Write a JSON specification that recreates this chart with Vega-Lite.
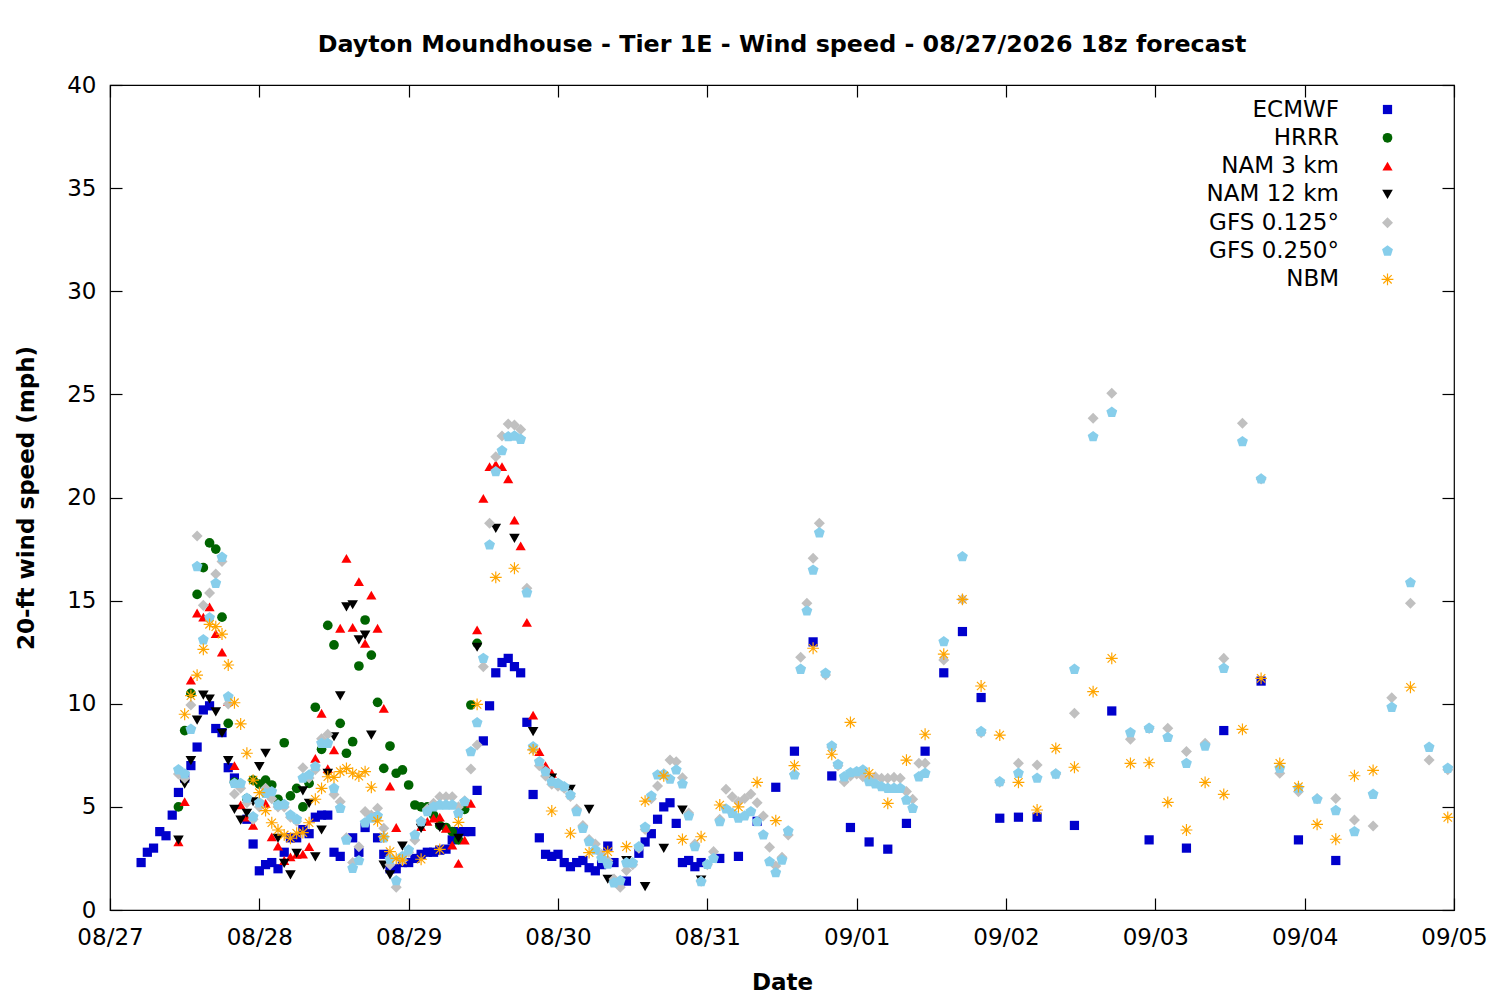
{
"$schema":"https://vega.github.io/schema/vega-lite/v6.json",
"width":1344,"height":825,"autosize":"none",
"padding":{"left":110,"top":85,"right":46,"bottom":90},
"background":"white",
"title":{"text":"Dayton Moundhouse - Tier 1E - Wind speed - 08/27/2026 18z forecast","fontSize":23.8,"fontWeight":"bold","font":"DejaVu Sans","color":"black","anchor":"middle","frame":"group","offset":17},
"config":{"font":"DejaVu Sans","view":{"stroke":"black","strokeWidth":1.2},
"axis":{"labelFontSize":23,"titleFontSize":23,"titleFontWeight":"bold","labelColor":"black","titleColor":"black","tickColor":"black","tickWidth":1.2,"domain":false,"grid":false,"tickSize":-12,"labelPadding":26,"labelFont":"DejaVu Sans","titleFont":"DejaVu Sans","labelFlush":false}},
"data":{"values":[
{"model":"ECMWF","time":"2026-08-27T05:00Z","speed":2.3},
{"model":"ECMWF","time":"2026-08-27T06:00Z","speed":2.8},
{"model":"ECMWF","time":"2026-08-27T07:00Z","speed":3.0},
{"model":"ECMWF","time":"2026-08-27T08:00Z","speed":3.8},
{"model":"ECMWF","time":"2026-08-27T09:00Z","speed":3.6},
{"model":"ECMWF","time":"2026-08-27T10:00Z","speed":4.6},
{"model":"ECMWF","time":"2026-08-27T11:00Z","speed":5.7},
{"model":"ECMWF","time":"2026-08-27T12:00Z","speed":6.4},
{"model":"ECMWF","time":"2026-08-27T13:00Z","speed":7.0},
{"model":"ECMWF","time":"2026-08-27T14:00Z","speed":7.9},
{"model":"ECMWF","time":"2026-08-27T15:00Z","speed":9.7},
{"model":"ECMWF","time":"2026-08-27T16:00Z","speed":9.9},
{"model":"ECMWF","time":"2026-08-27T17:00Z","speed":8.8},
{"model":"ECMWF","time":"2026-08-27T18:00Z","speed":8.6},
{"model":"ECMWF","time":"2026-08-27T19:00Z","speed":6.9},
{"model":"ECMWF","time":"2026-08-27T20:00Z","speed":6.4},
{"model":"ECMWF","time":"2026-08-27T22:00Z","speed":4.4},
{"model":"ECMWF","time":"2026-08-27T23:00Z","speed":3.2},
{"model":"ECMWF","time":"2026-08-28T00:00Z","speed":1.9},
{"model":"ECMWF","time":"2026-08-28T01:00Z","speed":2.2},
{"model":"ECMWF","time":"2026-08-28T02:00Z","speed":2.3},
{"model":"ECMWF","time":"2026-08-28T03:00Z","speed":2.0},
{"model":"ECMWF","time":"2026-08-28T04:00Z","speed":2.8},
{"model":"ECMWF","time":"2026-08-28T05:00Z","speed":3.5},
{"model":"ECMWF","time":"2026-08-28T06:00Z","speed":3.5},
{"model":"ECMWF","time":"2026-08-28T07:00Z","speed":3.9},
{"model":"ECMWF","time":"2026-08-28T08:00Z","speed":3.7},
{"model":"ECMWF","time":"2026-08-28T09:00Z","speed":4.5},
{"model":"ECMWF","time":"2026-08-28T10:00Z","speed":4.6},
{"model":"ECMWF","time":"2026-08-28T11:00Z","speed":4.6},
{"model":"ECMWF","time":"2026-08-28T12:00Z","speed":2.8},
{"model":"ECMWF","time":"2026-08-28T13:00Z","speed":2.6},
{"model":"ECMWF","time":"2026-08-28T15:00Z","speed":3.5},
{"model":"ECMWF","time":"2026-08-28T16:00Z","speed":2.8},
{"model":"ECMWF","time":"2026-08-28T17:00Z","speed":4.0},
{"model":"ECMWF","time":"2026-08-28T18:00Z","speed":4.5},
{"model":"ECMWF","time":"2026-08-28T19:00Z","speed":3.5},
{"model":"ECMWF","time":"2026-08-28T20:00Z","speed":2.7},
{"model":"ECMWF","time":"2026-08-28T21:00Z","speed":2.0},
{"model":"ECMWF","time":"2026-08-28T22:00Z","speed":2.0},
{"model":"ECMWF","time":"2026-08-28T23:00Z","speed":2.3},
{"model":"ECMWF","time":"2026-08-29T00:00Z","speed":2.3},
{"model":"ECMWF","time":"2026-08-29T01:00Z","speed":2.5},
{"model":"ECMWF","time":"2026-08-29T02:00Z","speed":2.7},
{"model":"ECMWF","time":"2026-08-29T03:00Z","speed":2.8},
{"model":"ECMWF","time":"2026-08-29T04:00Z","speed":2.8},
{"model":"ECMWF","time":"2026-08-29T05:00Z","speed":2.9},
{"model":"ECMWF","time":"2026-08-29T06:00Z","speed":2.95},
{"model":"ECMWF","time":"2026-08-29T07:00Z","speed":3.4},
{"model":"ECMWF","time":"2026-08-29T08:00Z","speed":3.8},
{"model":"ECMWF","time":"2026-08-29T09:00Z","speed":3.8},
{"model":"ECMWF","time":"2026-08-29T10:00Z","speed":3.8},
{"model":"ECMWF","time":"2026-08-29T11:00Z","speed":5.8},
{"model":"ECMWF","time":"2026-08-29T12:00Z","speed":8.2},
{"model":"ECMWF","time":"2026-08-29T13:00Z","speed":9.9},
{"model":"ECMWF","time":"2026-08-29T14:00Z","speed":11.5},
{"model":"ECMWF","time":"2026-08-29T15:00Z","speed":12.0},
{"model":"ECMWF","time":"2026-08-29T16:00Z","speed":12.2},
{"model":"ECMWF","time":"2026-08-29T17:00Z","speed":11.8},
{"model":"ECMWF","time":"2026-08-29T18:00Z","speed":11.5},
{"model":"ECMWF","time":"2026-08-29T19:00Z","speed":9.1},
{"model":"ECMWF","time":"2026-08-29T20:00Z","speed":5.6},
{"model":"ECMWF","time":"2026-08-29T21:00Z","speed":3.5},
{"model":"ECMWF","time":"2026-08-29T22:00Z","speed":2.7},
{"model":"ECMWF","time":"2026-08-29T23:00Z","speed":2.6},
{"model":"ECMWF","time":"2026-08-30T00:00Z","speed":2.7},
{"model":"ECMWF","time":"2026-08-30T01:00Z","speed":2.3},
{"model":"ECMWF","time":"2026-08-30T02:00Z","speed":2.1},
{"model":"ECMWF","time":"2026-08-30T03:00Z","speed":2.3},
{"model":"ECMWF","time":"2026-08-30T04:00Z","speed":2.4},
{"model":"ECMWF","time":"2026-08-30T05:00Z","speed":2.05},
{"model":"ECMWF","time":"2026-08-30T06:00Z","speed":1.9},
{"model":"ECMWF","time":"2026-08-30T07:00Z","speed":2.2},
{"model":"ECMWF","time":"2026-08-30T08:00Z","speed":3.1},
{"model":"ECMWF","time":"2026-08-30T09:00Z","speed":2.3},
{"model":"ECMWF","time":"2026-08-30T11:00Z","speed":1.4},
{"model":"ECMWF","time":"2026-08-30T13:00Z","speed":2.75},
{"model":"ECMWF","time":"2026-08-30T14:00Z","speed":3.3},
{"model":"ECMWF","time":"2026-08-30T15:00Z","speed":3.7},
{"model":"ECMWF","time":"2026-08-30T16:00Z","speed":4.4},
{"model":"ECMWF","time":"2026-08-30T17:00Z","speed":5.0},
{"model":"ECMWF","time":"2026-08-30T18:00Z","speed":5.2},
{"model":"ECMWF","time":"2026-08-30T19:00Z","speed":4.2},
{"model":"ECMWF","time":"2026-08-30T20:00Z","speed":2.3},
{"model":"ECMWF","time":"2026-08-30T21:00Z","speed":2.4},
{"model":"ECMWF","time":"2026-08-30T22:00Z","speed":2.1},
{"model":"ECMWF","time":"2026-08-30T23:00Z","speed":2.3},
{"model":"ECMWF","time":"2026-08-31T02:00Z","speed":2.5},
{"model":"ECMWF","time":"2026-08-31T05:00Z","speed":2.6},
{"model":"ECMWF","time":"2026-08-31T08:00Z","speed":4.3},
{"model":"ECMWF","time":"2026-08-31T11:00Z","speed":5.95},
{"model":"ECMWF","time":"2026-08-31T14:00Z","speed":7.7},
{"model":"ECMWF","time":"2026-08-31T17:00Z","speed":13.0},
{"model":"ECMWF","time":"2026-08-31T20:00Z","speed":6.5},
{"model":"ECMWF","time":"2026-08-31T23:00Z","speed":4.0},
{"model":"ECMWF","time":"2026-09-01T02:00Z","speed":3.3},
{"model":"ECMWF","time":"2026-09-01T05:00Z","speed":2.95},
{"model":"ECMWF","time":"2026-09-01T08:00Z","speed":4.2},
{"model":"ECMWF","time":"2026-09-01T11:00Z","speed":7.7},
{"model":"ECMWF","time":"2026-09-01T14:00Z","speed":11.5},
{"model":"ECMWF","time":"2026-09-01T17:00Z","speed":13.5},
{"model":"ECMWF","time":"2026-09-01T20:00Z","speed":10.3},
{"model":"ECMWF","time":"2026-09-01T23:00Z","speed":4.45},
{"model":"ECMWF","time":"2026-09-02T02:00Z","speed":4.5},
{"model":"ECMWF","time":"2026-09-02T05:00Z","speed":4.5},
{"model":"ECMWF","time":"2026-09-02T11:00Z","speed":4.1},
{"model":"ECMWF","time":"2026-09-02T17:00Z","speed":9.65},
{"model":"ECMWF","time":"2026-09-02T23:00Z","speed":3.4},
{"model":"ECMWF","time":"2026-09-03T05:00Z","speed":3.0},
{"model":"ECMWF","time":"2026-09-03T11:00Z","speed":8.7},
{"model":"ECMWF","time":"2026-09-03T17:00Z","speed":11.1},
{"model":"ECMWF","time":"2026-09-03T23:00Z","speed":3.4},
{"model":"ECMWF","time":"2026-09-04T05:00Z","speed":2.4},
{"model":"HRRR","time":"2026-08-27T11:00Z","speed":5.0},
{"model":"HRRR","time":"2026-08-27T12:00Z","speed":8.7},
{"model":"HRRR","time":"2026-08-27T13:00Z","speed":10.5},
{"model":"HRRR","time":"2026-08-27T14:00Z","speed":15.3},
{"model":"HRRR","time":"2026-08-27T15:00Z","speed":16.6},
{"model":"HRRR","time":"2026-08-27T16:00Z","speed":17.8},
{"model":"HRRR","time":"2026-08-27T17:00Z","speed":17.5},
{"model":"HRRR","time":"2026-08-27T18:00Z","speed":14.2},
{"model":"HRRR","time":"2026-08-27T19:00Z","speed":9.05},
{"model":"HRRR","time":"2026-08-27T20:00Z","speed":6.2},
{"model":"HRRR","time":"2026-08-27T22:00Z","speed":5.4},
{"model":"HRRR","time":"2026-08-27T23:00Z","speed":6.3},
{"model":"HRRR","time":"2026-08-28T00:00Z","speed":6.1},
{"model":"HRRR","time":"2026-08-28T01:00Z","speed":6.3},
{"model":"HRRR","time":"2026-08-28T02:00Z","speed":6.06},
{"model":"HRRR","time":"2026-08-28T03:00Z","speed":5.37},
{"model":"HRRR","time":"2026-08-28T04:00Z","speed":8.11},
{"model":"HRRR","time":"2026-08-28T05:00Z","speed":5.53},
{"model":"HRRR","time":"2026-08-28T06:00Z","speed":5.9},
{"model":"HRRR","time":"2026-08-28T07:00Z","speed":5.0},
{"model":"HRRR","time":"2026-08-28T08:00Z","speed":6.14},
{"model":"HRRR","time":"2026-08-28T09:00Z","speed":9.83},
{"model":"HRRR","time":"2026-08-28T10:00Z","speed":7.79},
{"model":"HRRR","time":"2026-08-28T11:00Z","speed":13.8},
{"model":"HRRR","time":"2026-08-28T12:00Z","speed":12.85},
{"model":"HRRR","time":"2026-08-28T13:00Z","speed":9.05},
{"model":"HRRR","time":"2026-08-28T14:00Z","speed":7.6},
{"model":"HRRR","time":"2026-08-28T15:00Z","speed":8.16},
{"model":"HRRR","time":"2026-08-28T16:00Z","speed":11.83},
{"model":"HRRR","time":"2026-08-28T17:00Z","speed":14.06},
{"model":"HRRR","time":"2026-08-28T18:00Z","speed":12.36},
{"model":"HRRR","time":"2026-08-28T19:00Z","speed":10.07},
{"model":"HRRR","time":"2026-08-28T20:00Z","speed":6.87},
{"model":"HRRR","time":"2026-08-28T21:00Z","speed":7.95},
{"model":"HRRR","time":"2026-08-28T22:00Z","speed":6.63},
{"model":"HRRR","time":"2026-08-28T23:00Z","speed":6.79},
{"model":"HRRR","time":"2026-08-29T00:00Z","speed":6.06},
{"model":"HRRR","time":"2026-08-29T01:00Z","speed":5.09},
{"model":"HRRR","time":"2026-08-29T02:00Z","speed":5.0},
{"model":"HRRR","time":"2026-08-29T03:00Z","speed":5.0},
{"model":"HRRR","time":"2026-08-29T04:00Z","speed":4.6},
{"model":"HRRR","time":"2026-08-29T05:00Z","speed":4.1},
{"model":"HRRR","time":"2026-08-29T06:00Z","speed":4.0},
{"model":"HRRR","time":"2026-08-29T07:00Z","speed":3.8},
{"model":"HRRR","time":"2026-08-29T08:00Z","speed":3.4},
{"model":"HRRR","time":"2026-08-29T09:00Z","speed":4.88},
{"model":"HRRR","time":"2026-08-29T10:00Z","speed":9.94},
{"model":"HRRR","time":"2026-08-29T11:00Z","speed":12.93},
{"model":"NAM 3 km","time":"2026-08-27T11:00Z","speed":3.3},
{"model":"NAM 3 km","time":"2026-08-27T12:00Z","speed":5.25},
{"model":"NAM 3 km","time":"2026-08-27T13:00Z","speed":11.15},
{"model":"NAM 3 km","time":"2026-08-27T14:00Z","speed":14.4},
{"model":"NAM 3 km","time":"2026-08-27T15:00Z","speed":14.2},
{"model":"NAM 3 km","time":"2026-08-27T16:00Z","speed":14.7},
{"model":"NAM 3 km","time":"2026-08-27T17:00Z","speed":13.4},
{"model":"NAM 3 km","time":"2026-08-27T18:00Z","speed":12.5},
{"model":"NAM 3 km","time":"2026-08-27T19:00Z","speed":10.1},
{"model":"NAM 3 km","time":"2026-08-27T20:00Z","speed":7.0},
{"model":"NAM 3 km","time":"2026-08-27T21:00Z","speed":5.1},
{"model":"NAM 3 km","time":"2026-08-27T22:00Z","speed":4.5},
{"model":"NAM 3 km","time":"2026-08-27T23:00Z","speed":4.1},
{"model":"NAM 3 km","time":"2026-08-28T01:00Z","speed":5.17},
{"model":"NAM 3 km","time":"2026-08-28T02:00Z","speed":3.55},
{"model":"NAM 3 km","time":"2026-08-28T03:00Z","speed":3.1},
{"model":"NAM 3 km","time":"2026-08-28T04:00Z","speed":2.4},
{"model":"NAM 3 km","time":"2026-08-28T05:00Z","speed":2.58},
{"model":"NAM 3 km","time":"2026-08-28T06:00Z","speed":2.7},
{"model":"NAM 3 km","time":"2026-08-28T07:00Z","speed":2.71},
{"model":"NAM 3 km","time":"2026-08-28T08:00Z","speed":3.07},
{"model":"NAM 3 km","time":"2026-08-28T09:00Z","speed":7.35},
{"model":"NAM 3 km","time":"2026-08-28T10:00Z","speed":9.54},
{"model":"NAM 3 km","time":"2026-08-28T11:00Z","speed":6.85},
{"model":"NAM 3 km","time":"2026-08-28T12:00Z","speed":7.76},
{"model":"NAM 3 km","time":"2026-08-28T13:00Z","speed":13.66},
{"model":"NAM 3 km","time":"2026-08-28T14:00Z","speed":17.05},
{"model":"NAM 3 km","time":"2026-08-28T15:00Z","speed":13.7},
{"model":"NAM 3 km","time":"2026-08-28T16:00Z","speed":15.92},
{"model":"NAM 3 km","time":"2026-08-28T17:00Z","speed":12.93},
{"model":"NAM 3 km","time":"2026-08-28T18:00Z","speed":15.27},
{"model":"NAM 3 km","time":"2026-08-28T19:00Z","speed":13.66},
{"model":"NAM 3 km","time":"2026-08-28T20:00Z","speed":9.78},
{"model":"NAM 3 km","time":"2026-08-28T21:00Z","speed":6.01},
{"model":"NAM 3 km","time":"2026-08-28T22:00Z","speed":4.0},
{"model":"NAM 3 km","time":"2026-08-29T02:00Z","speed":4.04},
{"model":"NAM 3 km","time":"2026-08-29T03:00Z","speed":4.3},
{"model":"NAM 3 km","time":"2026-08-29T04:00Z","speed":4.45},
{"model":"NAM 3 km","time":"2026-08-29T05:00Z","speed":4.5},
{"model":"NAM 3 km","time":"2026-08-29T06:00Z","speed":3.96},
{"model":"NAM 3 km","time":"2026-08-29T07:00Z","speed":3.15},
{"model":"NAM 3 km","time":"2026-08-29T08:00Z","speed":2.26},
{"model":"NAM 3 km","time":"2026-08-29T09:00Z","speed":3.39},
{"model":"NAM 3 km","time":"2026-08-29T10:00Z","speed":5.17},
{"model":"NAM 3 km","time":"2026-08-29T11:00Z","speed":13.58},
{"model":"NAM 3 km","time":"2026-08-29T12:00Z","speed":19.96},
{"model":"NAM 3 km","time":"2026-08-29T13:00Z","speed":21.5},
{"model":"NAM 3 km","time":"2026-08-29T14:00Z","speed":21.6},
{"model":"NAM 3 km","time":"2026-08-29T15:00Z","speed":21.5},
{"model":"NAM 3 km","time":"2026-08-29T16:00Z","speed":20.9},
{"model":"NAM 3 km","time":"2026-08-29T17:00Z","speed":18.9},
{"model":"NAM 3 km","time":"2026-08-29T18:00Z","speed":17.65},
{"model":"NAM 3 km","time":"2026-08-29T19:00Z","speed":13.95},
{"model":"NAM 3 km","time":"2026-08-29T20:00Z","speed":9.45},
{"model":"NAM 3 km","time":"2026-08-29T21:00Z","speed":7.68},
{"model":"NAM 3 km","time":"2026-08-29T22:00Z","speed":7.0},
{"model":"NAM 3 km","time":"2026-08-29T23:00Z","speed":6.63},
{"model":"NAM 12 km","time":"2026-08-27T11:00Z","speed":3.39},
{"model":"NAM 12 km","time":"2026-08-27T12:00Z","speed":6.1},
{"model":"NAM 12 km","time":"2026-08-27T13:00Z","speed":7.24},
{"model":"NAM 12 km","time":"2026-08-27T14:00Z","speed":9.21},
{"model":"NAM 12 km","time":"2026-08-27T15:00Z","speed":10.42},
{"model":"NAM 12 km","time":"2026-08-27T16:00Z","speed":10.23},
{"model":"NAM 12 km","time":"2026-08-27T17:00Z","speed":9.61},
{"model":"NAM 12 km","time":"2026-08-27T18:00Z","speed":8.57},
{"model":"NAM 12 km","time":"2026-08-27T19:00Z","speed":7.24},
{"model":"NAM 12 km","time":"2026-08-27T20:00Z","speed":4.88},
{"model":"NAM 12 km","time":"2026-08-27T21:00Z","speed":4.36},
{"model":"NAM 12 km","time":"2026-08-27T22:00Z","speed":4.69},
{"model":"NAM 12 km","time":"2026-08-27T23:00Z","speed":5.25},
{"model":"NAM 12 km","time":"2026-08-28T00:00Z","speed":6.95},
{"model":"NAM 12 km","time":"2026-08-28T01:00Z","speed":7.6},
{"model":"NAM 12 km","time":"2026-08-28T03:00Z","speed":3.48},
{"model":"NAM 12 km","time":"2026-08-28T04:00Z","speed":2.26},
{"model":"NAM 12 km","time":"2026-08-28T05:00Z","speed":1.7},
{"model":"NAM 12 km","time":"2026-08-28T06:00Z","speed":2.75},
{"model":"NAM 12 km","time":"2026-08-28T07:00Z","speed":5.78},
{"model":"NAM 12 km","time":"2026-08-28T08:00Z","speed":5.17},
{"model":"NAM 12 km","time":"2026-08-28T09:00Z","speed":2.58},
{"model":"NAM 12 km","time":"2026-08-28T10:00Z","speed":3.88},
{"model":"NAM 12 km","time":"2026-08-28T11:00Z","speed":6.63},
{"model":"NAM 12 km","time":"2026-08-28T12:00Z","speed":8.4},
{"model":"NAM 12 km","time":"2026-08-28T13:00Z","speed":10.38},
{"model":"NAM 12 km","time":"2026-08-28T14:00Z","speed":14.7},
{"model":"NAM 12 km","time":"2026-08-28T15:00Z","speed":14.8},
{"model":"NAM 12 km","time":"2026-08-28T16:00Z","speed":13.1},
{"model":"NAM 12 km","time":"2026-08-28T17:00Z","speed":13.33},
{"model":"NAM 12 km","time":"2026-08-28T18:00Z","speed":8.48},
{"model":"NAM 12 km","time":"2026-08-28T20:00Z","speed":2.18},
{"model":"NAM 12 km","time":"2026-08-28T21:00Z","speed":1.7},
{"model":"NAM 12 km","time":"2026-08-28T23:00Z","speed":3.1},
{"model":"NAM 12 km","time":"2026-08-29T02:00Z","speed":3.96},
{"model":"NAM 12 km","time":"2026-08-29T05:00Z","speed":4.0},
{"model":"NAM 12 km","time":"2026-08-29T08:00Z","speed":3.48},
{"model":"NAM 12 km","time":"2026-08-29T11:00Z","speed":12.74},
{"model":"NAM 12 km","time":"2026-08-29T14:00Z","speed":18.5},
{"model":"NAM 12 km","time":"2026-08-29T17:00Z","speed":18.02},
{"model":"NAM 12 km","time":"2026-08-29T20:00Z","speed":8.65},
{"model":"NAM 12 km","time":"2026-08-29T23:00Z","speed":6.4},
{"model":"NAM 12 km","time":"2026-08-30T02:00Z","speed":5.85},
{"model":"NAM 12 km","time":"2026-08-30T05:00Z","speed":4.88},
{"model":"NAM 12 km","time":"2026-08-30T08:00Z","speed":1.49},
{"model":"NAM 12 km","time":"2026-08-30T11:00Z","speed":2.39},
{"model":"NAM 12 km","time":"2026-08-30T14:00Z","speed":1.13},
{"model":"NAM 12 km","time":"2026-08-30T17:00Z","speed":2.99},
{"model":"NAM 12 km","time":"2026-08-30T20:00Z","speed":4.85},
{"model":"NAM 12 km","time":"2026-08-30T23:00Z","speed":1.45},
{"model":"GFS 0.125°","time":"2026-08-27T11:00Z","speed":6.6},
{"model":"GFS 0.125°","time":"2026-08-27T12:00Z","speed":6.39},
{"model":"GFS 0.125°","time":"2026-08-27T13:00Z","speed":9.94},
{"model":"GFS 0.125°","time":"2026-08-27T14:00Z","speed":18.13},
{"model":"GFS 0.125°","time":"2026-08-27T15:00Z","speed":14.77},
{"model":"GFS 0.125°","time":"2026-08-27T16:00Z","speed":15.37},
{"model":"GFS 0.125°","time":"2026-08-27T17:00Z","speed":16.29},
{"model":"GFS 0.125°","time":"2026-08-27T18:00Z","speed":16.9},
{"model":"GFS 0.125°","time":"2026-08-27T19:00Z","speed":9.99},
{"model":"GFS 0.125°","time":"2026-08-27T20:00Z","speed":5.62},
{"model":"GFS 0.125°","time":"2026-08-27T21:00Z","speed":5.9},
{"model":"GFS 0.125°","time":"2026-08-27T22:00Z","speed":5.2},
{"model":"GFS 0.125°","time":"2026-08-27T23:00Z","speed":4.4},
{"model":"GFS 0.125°","time":"2026-08-28T00:00Z","speed":5.0},
{"model":"GFS 0.125°","time":"2026-08-28T01:00Z","speed":5.9},
{"model":"GFS 0.125°","time":"2026-08-28T02:00Z","speed":5.4},
{"model":"GFS 0.125°","time":"2026-08-28T03:00Z","speed":5.0},
{"model":"GFS 0.125°","time":"2026-08-28T04:00Z","speed":5.0},
{"model":"GFS 0.125°","time":"2026-08-28T05:00Z","speed":4.5},
{"model":"GFS 0.125°","time":"2026-08-28T06:00Z","speed":4.3},
{"model":"GFS 0.125°","time":"2026-08-28T07:00Z","speed":6.9},
{"model":"GFS 0.125°","time":"2026-08-28T08:00Z","speed":6.4},
{"model":"GFS 0.125°","time":"2026-08-28T09:00Z","speed":6.8},
{"model":"GFS 0.125°","time":"2026-08-28T10:00Z","speed":8.3},
{"model":"GFS 0.125°","time":"2026-08-28T11:00Z","speed":8.52},
{"model":"GFS 0.125°","time":"2026-08-28T12:00Z","speed":5.6},
{"model":"GFS 0.125°","time":"2026-08-28T13:00Z","speed":5.25},
{"model":"GFS 0.125°","time":"2026-08-28T14:00Z","speed":3.5},
{"model":"GFS 0.125°","time":"2026-08-28T15:00Z","speed":2.3},
{"model":"GFS 0.125°","time":"2026-08-28T16:00Z","speed":3.07},
{"model":"GFS 0.125°","time":"2026-08-28T17:00Z","speed":4.77},
{"model":"GFS 0.125°","time":"2026-08-28T18:00Z","speed":4.6},
{"model":"GFS 0.125°","time":"2026-08-28T19:00Z","speed":4.93},
{"model":"GFS 0.125°","time":"2026-08-28T20:00Z","speed":3.96},
{"model":"GFS 0.125°","time":"2026-08-28T21:00Z","speed":2.2},
{"model":"GFS 0.125°","time":"2026-08-28T22:00Z","speed":1.1},
{"model":"GFS 0.125°","time":"2026-08-28T23:00Z","speed":2.4},
{"model":"GFS 0.125°","time":"2026-08-29T00:00Z","speed":2.8},
{"model":"GFS 0.125°","time":"2026-08-29T01:00Z","speed":3.39},
{"model":"GFS 0.125°","time":"2026-08-29T02:00Z","speed":4.3},
{"model":"GFS 0.125°","time":"2026-08-29T03:00Z","speed":4.9},
{"model":"GFS 0.125°","time":"2026-08-29T04:00Z","speed":5.17},
{"model":"GFS 0.125°","time":"2026-08-29T05:00Z","speed":5.49},
{"model":"GFS 0.125°","time":"2026-08-29T06:00Z","speed":5.49},
{"model":"GFS 0.125°","time":"2026-08-29T07:00Z","speed":5.49},
{"model":"GFS 0.125°","time":"2026-08-29T08:00Z","speed":5.0},
{"model":"GFS 0.125°","time":"2026-08-29T09:00Z","speed":5.3},
{"model":"GFS 0.125°","time":"2026-08-29T10:00Z","speed":6.84},
{"model":"GFS 0.125°","time":"2026-08-29T11:00Z","speed":8.0},
{"model":"GFS 0.125°","time":"2026-08-29T12:00Z","speed":11.8},
{"model":"GFS 0.125°","time":"2026-08-29T13:00Z","speed":18.75},
{"model":"GFS 0.125°","time":"2026-08-29T14:00Z","speed":21.98},
{"model":"GFS 0.125°","time":"2026-08-29T15:00Z","speed":22.98},
{"model":"GFS 0.125°","time":"2026-08-29T16:00Z","speed":23.56},
{"model":"GFS 0.125°","time":"2026-08-29T17:00Z","speed":23.52},
{"model":"GFS 0.125°","time":"2026-08-29T18:00Z","speed":23.3},
{"model":"GFS 0.125°","time":"2026-08-29T19:00Z","speed":15.6},
{"model":"GFS 0.125°","time":"2026-08-29T20:00Z","speed":7.8},
{"model":"GFS 0.125°","time":"2026-08-29T21:00Z","speed":7.0},
{"model":"GFS 0.125°","time":"2026-08-29T22:00Z","speed":6.5},
{"model":"GFS 0.125°","time":"2026-08-29T23:00Z","speed":6.1},
{"model":"GFS 0.125°","time":"2026-08-30T00:00Z","speed":6.0},
{"model":"GFS 0.125°","time":"2026-08-30T01:00Z","speed":5.9},
{"model":"GFS 0.125°","time":"2026-08-30T02:00Z","speed":5.5},
{"model":"GFS 0.125°","time":"2026-08-30T03:00Z","speed":4.9},
{"model":"GFS 0.125°","time":"2026-08-30T04:00Z","speed":4.1},
{"model":"GFS 0.125°","time":"2026-08-30T05:00Z","speed":3.42},
{"model":"GFS 0.125°","time":"2026-08-30T06:00Z","speed":3.2},
{"model":"GFS 0.125°","time":"2026-08-30T07:00Z","speed":2.7},
{"model":"GFS 0.125°","time":"2026-08-30T08:00Z","speed":2.4},
{"model":"GFS 0.125°","time":"2026-08-30T09:00Z","speed":1.5},
{"model":"GFS 0.125°","time":"2026-08-30T10:00Z","speed":1.1},
{"model":"GFS 0.125°","time":"2026-08-30T11:00Z","speed":1.91},
{"model":"GFS 0.125°","time":"2026-08-30T12:00Z","speed":2.2},
{"model":"GFS 0.125°","time":"2026-08-30T13:00Z","speed":3.0},
{"model":"GFS 0.125°","time":"2026-08-30T14:00Z","speed":3.9},
{"model":"GFS 0.125°","time":"2026-08-30T15:00Z","speed":5.4},
{"model":"GFS 0.125°","time":"2026-08-30T16:00Z","speed":6.01},
{"model":"GFS 0.125°","time":"2026-08-30T17:00Z","speed":6.6},
{"model":"GFS 0.125°","time":"2026-08-30T18:00Z","speed":7.27},
{"model":"GFS 0.125°","time":"2026-08-30T19:00Z","speed":7.19},
{"model":"GFS 0.125°","time":"2026-08-30T20:00Z","speed":6.41},
{"model":"GFS 0.125°","time":"2026-08-30T21:00Z","speed":4.7},
{"model":"GFS 0.125°","time":"2026-08-30T22:00Z","speed":3.2},
{"model":"GFS 0.125°","time":"2026-08-30T23:00Z","speed":1.4},
{"model":"GFS 0.125°","time":"2026-08-31T00:00Z","speed":2.2},
{"model":"GFS 0.125°","time":"2026-08-31T01:00Z","speed":2.83},
{"model":"GFS 0.125°","time":"2026-08-31T02:00Z","speed":4.4},
{"model":"GFS 0.125°","time":"2026-08-31T03:00Z","speed":5.85},
{"model":"GFS 0.125°","time":"2026-08-31T04:00Z","speed":5.49},
{"model":"GFS 0.125°","time":"2026-08-31T05:00Z","speed":5.25},
{"model":"GFS 0.125°","time":"2026-08-31T06:00Z","speed":5.41},
{"model":"GFS 0.125°","time":"2026-08-31T07:00Z","speed":5.62},
{"model":"GFS 0.125°","time":"2026-08-31T08:00Z","speed":5.2},
{"model":"GFS 0.125°","time":"2026-08-31T09:00Z","speed":4.56},
{"model":"GFS 0.125°","time":"2026-08-31T10:00Z","speed":3.04},
{"model":"GFS 0.125°","time":"2026-08-31T11:00Z","speed":2.13},
{"model":"GFS 0.125°","time":"2026-08-31T12:00Z","speed":2.56},
{"model":"GFS 0.125°","time":"2026-08-31T13:00Z","speed":3.64},
{"model":"GFS 0.125°","time":"2026-08-31T14:00Z","speed":6.6},
{"model":"GFS 0.125°","time":"2026-08-31T15:00Z","speed":12.25},
{"model":"GFS 0.125°","time":"2026-08-31T16:00Z","speed":14.87},
{"model":"GFS 0.125°","time":"2026-08-31T17:00Z","speed":17.05},
{"model":"GFS 0.125°","time":"2026-08-31T18:00Z","speed":18.75},
{"model":"GFS 0.125°","time":"2026-08-31T19:00Z","speed":11.39},
{"model":"GFS 0.125°","time":"2026-08-31T20:00Z","speed":7.9},
{"model":"GFS 0.125°","time":"2026-08-31T21:00Z","speed":7.0},
{"model":"GFS 0.125°","time":"2026-08-31T22:00Z","speed":6.22},
{"model":"GFS 0.125°","time":"2026-08-31T23:00Z","speed":6.5},
{"model":"GFS 0.125°","time":"2026-09-01T00:00Z","speed":6.6},
{"model":"GFS 0.125°","time":"2026-09-01T01:00Z","speed":6.46},
{"model":"GFS 0.125°","time":"2026-09-01T02:00Z","speed":6.4},
{"model":"GFS 0.125°","time":"2026-09-01T03:00Z","speed":6.46},
{"model":"GFS 0.125°","time":"2026-09-01T04:00Z","speed":6.39},
{"model":"GFS 0.125°","time":"2026-09-01T05:00Z","speed":6.39},
{"model":"GFS 0.125°","time":"2026-09-01T06:00Z","speed":6.43},
{"model":"GFS 0.125°","time":"2026-09-01T07:00Z","speed":6.39},
{"model":"GFS 0.125°","time":"2026-09-01T08:00Z","speed":5.74},
{"model":"GFS 0.125°","time":"2026-09-01T09:00Z","speed":5.37},
{"model":"GFS 0.125°","time":"2026-09-01T10:00Z","speed":7.11},
{"model":"GFS 0.125°","time":"2026-09-01T11:00Z","speed":7.11},
{"model":"GFS 0.125°","time":"2026-09-01T14:00Z","speed":12.12},
{"model":"GFS 0.125°","time":"2026-09-01T17:00Z","speed":15.06},
{"model":"GFS 0.125°","time":"2026-09-01T20:00Z","speed":8.6},
{"model":"GFS 0.125°","time":"2026-09-01T23:00Z","speed":6.2},
{"model":"GFS 0.125°","time":"2026-09-02T02:00Z","speed":7.11},
{"model":"GFS 0.125°","time":"2026-09-02T05:00Z","speed":7.03},
{"model":"GFS 0.125°","time":"2026-09-02T08:00Z","speed":6.6},
{"model":"GFS 0.125°","time":"2026-09-02T11:00Z","speed":9.54},
{"model":"GFS 0.125°","time":"2026-09-02T14:00Z","speed":23.84},
{"model":"GFS 0.125°","time":"2026-09-02T17:00Z","speed":25.05},
{"model":"GFS 0.125°","time":"2026-09-02T20:00Z","speed":8.28},
{"model":"GFS 0.125°","time":"2026-09-02T23:00Z","speed":8.8},
{"model":"GFS 0.125°","time":"2026-09-03T02:00Z","speed":8.81},
{"model":"GFS 0.125°","time":"2026-09-03T05:00Z","speed":7.68},
{"model":"GFS 0.125°","time":"2026-09-03T08:00Z","speed":8.08},
{"model":"GFS 0.125°","time":"2026-09-03T11:00Z","speed":12.2},
{"model":"GFS 0.125°","time":"2026-09-03T14:00Z","speed":23.6},
{"model":"GFS 0.125°","time":"2026-09-03T17:00Z","speed":20.9},
{"model":"GFS 0.125°","time":"2026-09-03T20:00Z","speed":6.63},
{"model":"GFS 0.125°","time":"2026-09-03T23:00Z","speed":5.74},
{"model":"GFS 0.125°","time":"2026-09-04T02:00Z","speed":5.4},
{"model":"GFS 0.125°","time":"2026-09-04T05:00Z","speed":5.41},
{"model":"GFS 0.125°","time":"2026-09-04T08:00Z","speed":4.36},
{"model":"GFS 0.125°","time":"2026-09-04T11:00Z","speed":4.07},
{"model":"GFS 0.125°","time":"2026-09-04T14:00Z","speed":10.29},
{"model":"GFS 0.125°","time":"2026-09-04T17:00Z","speed":14.87},
{"model":"GFS 0.125°","time":"2026-09-04T20:00Z","speed":7.27},
{"model":"GFS 0.125°","time":"2026-09-04T23:00Z","speed":6.8},
{"model":"GFS 0.250°","time":"2026-08-27T11:00Z","speed":6.8},
{"model":"GFS 0.250°","time":"2026-08-27T12:00Z","speed":6.6},
{"model":"GFS 0.250°","time":"2026-08-27T13:00Z","speed":8.76},
{"model":"GFS 0.250°","time":"2026-08-27T14:00Z","speed":16.65},
{"model":"GFS 0.250°","time":"2026-08-27T15:00Z","speed":13.1},
{"model":"GFS 0.250°","time":"2026-08-27T16:00Z","speed":14.17},
{"model":"GFS 0.250°","time":"2026-08-27T17:00Z","speed":15.84},
{"model":"GFS 0.250°","time":"2026-08-27T18:00Z","speed":17.1},
{"model":"GFS 0.250°","time":"2026-08-27T19:00Z","speed":10.34},
{"model":"GFS 0.250°","time":"2026-08-27T20:00Z","speed":6.14},
{"model":"GFS 0.250°","time":"2026-08-27T21:00Z","speed":6.14},
{"model":"GFS 0.250°","time":"2026-08-27T22:00Z","speed":5.42},
{"model":"GFS 0.250°","time":"2026-08-27T23:00Z","speed":4.52},
{"model":"GFS 0.250°","time":"2026-08-28T00:00Z","speed":5.2},
{"model":"GFS 0.250°","time":"2026-08-28T01:00Z","speed":5.66},
{"model":"GFS 0.250°","time":"2026-08-28T02:00Z","speed":5.74},
{"model":"GFS 0.250°","time":"2026-08-28T03:00Z","speed":5.09},
{"model":"GFS 0.250°","time":"2026-08-28T04:00Z","speed":5.12},
{"model":"GFS 0.250°","time":"2026-08-28T05:00Z","speed":4.61},
{"model":"GFS 0.250°","time":"2026-08-28T06:00Z","speed":4.4},
{"model":"GFS 0.250°","time":"2026-08-28T07:00Z","speed":6.39},
{"model":"GFS 0.250°","time":"2026-08-28T08:00Z","speed":6.55},
{"model":"GFS 0.250°","time":"2026-08-28T09:00Z","speed":6.95},
{"model":"GFS 0.250°","time":"2026-08-28T10:00Z","speed":8.08},
{"model":"GFS 0.250°","time":"2026-08-28T11:00Z","speed":8.08},
{"model":"GFS 0.250°","time":"2026-08-28T12:00Z","speed":5.9},
{"model":"GFS 0.250°","time":"2026-08-28T13:00Z","speed":4.93},
{"model":"GFS 0.250°","time":"2026-08-28T14:00Z","speed":3.39},
{"model":"GFS 0.250°","time":"2026-08-28T15:00Z","speed":2.02},
{"model":"GFS 0.250°","time":"2026-08-28T16:00Z","speed":2.39},
{"model":"GFS 0.250°","time":"2026-08-28T17:00Z","speed":4.23},
{"model":"GFS 0.250°","time":"2026-08-28T18:00Z","speed":4.45},
{"model":"GFS 0.250°","time":"2026-08-28T19:00Z","speed":4.56},
{"model":"GFS 0.250°","time":"2026-08-28T20:00Z","speed":3.5},
{"model":"GFS 0.250°","time":"2026-08-28T21:00Z","speed":2.46},
{"model":"GFS 0.250°","time":"2026-08-28T22:00Z","speed":1.42},
{"model":"GFS 0.250°","time":"2026-08-28T23:00Z","speed":2.6},
{"model":"GFS 0.250°","time":"2026-08-29T00:00Z","speed":2.91},
{"model":"GFS 0.250°","time":"2026-08-29T01:00Z","speed":3.64},
{"model":"GFS 0.250°","time":"2026-08-29T02:00Z","speed":4.28},
{"model":"GFS 0.250°","time":"2026-08-29T03:00Z","speed":4.77},
{"model":"GFS 0.250°","time":"2026-08-29T04:00Z","speed":5.0},
{"model":"GFS 0.250°","time":"2026-08-29T05:00Z","speed":5.09},
{"model":"GFS 0.250°","time":"2026-08-29T06:00Z","speed":5.09},
{"model":"GFS 0.250°","time":"2026-08-29T07:00Z","speed":5.09},
{"model":"GFS 0.250°","time":"2026-08-29T08:00Z","speed":4.69},
{"model":"GFS 0.250°","time":"2026-08-29T09:00Z","speed":5.25},
{"model":"GFS 0.250°","time":"2026-08-29T10:00Z","speed":7.68},
{"model":"GFS 0.250°","time":"2026-08-29T11:00Z","speed":9.08},
{"model":"GFS 0.250°","time":"2026-08-29T12:00Z","speed":12.2},
{"model":"GFS 0.250°","time":"2026-08-29T13:00Z","speed":17.7},
{"model":"GFS 0.250°","time":"2026-08-29T14:00Z","speed":21.25},
{"model":"GFS 0.250°","time":"2026-08-29T15:00Z","speed":22.27},
{"model":"GFS 0.250°","time":"2026-08-29T16:00Z","speed":22.95},
{"model":"GFS 0.250°","time":"2026-08-29T17:00Z","speed":22.98},
{"model":"GFS 0.250°","time":"2026-08-29T18:00Z","speed":22.82},
{"model":"GFS 0.250°","time":"2026-08-29T19:00Z","speed":15.38},
{"model":"GFS 0.250°","time":"2026-08-29T20:00Z","speed":7.92},
{"model":"GFS 0.250°","time":"2026-08-29T21:00Z","speed":7.19},
{"model":"GFS 0.250°","time":"2026-08-29T22:00Z","speed":6.71},
{"model":"GFS 0.250°","time":"2026-08-29T23:00Z","speed":6.22},
{"model":"GFS 0.250°","time":"2026-08-30T00:00Z","speed":6.14},
{"model":"GFS 0.250°","time":"2026-08-30T01:00Z","speed":5.98},
{"model":"GFS 0.250°","time":"2026-08-30T02:00Z","speed":5.58},
{"model":"GFS 0.250°","time":"2026-08-30T03:00Z","speed":4.77},
{"model":"GFS 0.250°","time":"2026-08-30T04:00Z","speed":3.96},
{"model":"GFS 0.250°","time":"2026-08-30T05:00Z","speed":3.31},
{"model":"GFS 0.250°","time":"2026-08-30T06:00Z","speed":2.91},
{"model":"GFS 0.250°","time":"2026-08-30T07:00Z","speed":2.5},
{"model":"GFS 0.250°","time":"2026-08-30T08:00Z","speed":2.23},
{"model":"GFS 0.250°","time":"2026-08-30T09:00Z","speed":1.32},
{"model":"GFS 0.250°","time":"2026-08-30T10:00Z","speed":1.42},
{"model":"GFS 0.250°","time":"2026-08-30T11:00Z","speed":2.29},
{"model":"GFS 0.250°","time":"2026-08-30T12:00Z","speed":2.29},
{"model":"GFS 0.250°","time":"2026-08-30T13:00Z","speed":3.07},
{"model":"GFS 0.250°","time":"2026-08-30T14:00Z","speed":4.01},
{"model":"GFS 0.250°","time":"2026-08-30T15:00Z","speed":5.53},
{"model":"GFS 0.250°","time":"2026-08-30T16:00Z","speed":6.55},
{"model":"GFS 0.250°","time":"2026-08-30T17:00Z","speed":6.58},
{"model":"GFS 0.250°","time":"2026-08-30T18:00Z","speed":6.34},
{"model":"GFS 0.250°","time":"2026-08-30T19:00Z","speed":6.79},
{"model":"GFS 0.250°","time":"2026-08-30T20:00Z","speed":6.11},
{"model":"GFS 0.250°","time":"2026-08-30T21:00Z","speed":4.56},
{"model":"GFS 0.250°","time":"2026-08-30T22:00Z","speed":3.07},
{"model":"GFS 0.250°","time":"2026-08-30T23:00Z","speed":1.37},
{"model":"GFS 0.250°","time":"2026-08-31T00:00Z","speed":2.21},
{"model":"GFS 0.250°","time":"2026-08-31T01:00Z","speed":2.5},
{"model":"GFS 0.250°","time":"2026-08-31T02:00Z","speed":4.28},
{"model":"GFS 0.250°","time":"2026-08-31T03:00Z","speed":4.9},
{"model":"GFS 0.250°","time":"2026-08-31T04:00Z","speed":4.69},
{"model":"GFS 0.250°","time":"2026-08-31T05:00Z","speed":4.45},
{"model":"GFS 0.250°","time":"2026-08-31T06:00Z","speed":4.56},
{"model":"GFS 0.250°","time":"2026-08-31T07:00Z","speed":4.77},
{"model":"GFS 0.250°","time":"2026-08-31T08:00Z","speed":4.28},
{"model":"GFS 0.250°","time":"2026-08-31T09:00Z","speed":3.64},
{"model":"GFS 0.250°","time":"2026-08-31T10:00Z","speed":2.34},
{"model":"GFS 0.250°","time":"2026-08-31T11:00Z","speed":1.81},
{"model":"GFS 0.250°","time":"2026-08-31T12:00Z","speed":2.42},
{"model":"GFS 0.250°","time":"2026-08-31T13:00Z","speed":3.83},
{"model":"GFS 0.250°","time":"2026-08-31T14:00Z","speed":6.55},
{"model":"GFS 0.250°","time":"2026-08-31T15:00Z","speed":11.67},
{"model":"GFS 0.250°","time":"2026-08-31T16:00Z","speed":14.5},
{"model":"GFS 0.250°","time":"2026-08-31T17:00Z","speed":16.48},
{"model":"GFS 0.250°","time":"2026-08-31T18:00Z","speed":18.29},
{"model":"GFS 0.250°","time":"2026-08-31T19:00Z","speed":11.48},
{"model":"GFS 0.250°","time":"2026-08-31T20:00Z","speed":7.95},
{"model":"GFS 0.250°","time":"2026-08-31T21:00Z","speed":7.06},
{"model":"GFS 0.250°","time":"2026-08-31T22:00Z","speed":6.46},
{"model":"GFS 0.250°","time":"2026-08-31T23:00Z","speed":6.66},
{"model":"GFS 0.250°","time":"2026-09-01T00:00Z","speed":6.71},
{"model":"GFS 0.250°","time":"2026-09-01T01:00Z","speed":6.79},
{"model":"GFS 0.250°","time":"2026-09-01T02:00Z","speed":6.22},
{"model":"GFS 0.250°","time":"2026-09-01T03:00Z","speed":6.11},
{"model":"GFS 0.250°","time":"2026-09-01T04:00Z","speed":5.98},
{"model":"GFS 0.250°","time":"2026-09-01T05:00Z","speed":5.9},
{"model":"GFS 0.250°","time":"2026-09-01T06:00Z","speed":5.9},
{"model":"GFS 0.250°","time":"2026-09-01T07:00Z","speed":5.9},
{"model":"GFS 0.250°","time":"2026-09-01T08:00Z","speed":5.33},
{"model":"GFS 0.250°","time":"2026-09-01T09:00Z","speed":4.93},
{"model":"GFS 0.250°","time":"2026-09-01T10:00Z","speed":6.46},
{"model":"GFS 0.250°","time":"2026-09-01T11:00Z","speed":6.63},
{"model":"GFS 0.250°","time":"2026-09-01T14:00Z","speed":13.01},
{"model":"GFS 0.250°","time":"2026-09-01T17:00Z","speed":17.13},
{"model":"GFS 0.250°","time":"2026-09-01T20:00Z","speed":8.65},
{"model":"GFS 0.250°","time":"2026-09-01T23:00Z","speed":6.22},
{"model":"GFS 0.250°","time":"2026-09-02T02:00Z","speed":6.63},
{"model":"GFS 0.250°","time":"2026-09-02T05:00Z","speed":6.39},
{"model":"GFS 0.250°","time":"2026-09-02T08:00Z","speed":6.59},
{"model":"GFS 0.250°","time":"2026-09-02T11:00Z","speed":11.67},
{"model":"GFS 0.250°","time":"2026-09-02T14:00Z","speed":22.95},
{"model":"GFS 0.250°","time":"2026-09-02T17:00Z","speed":24.13},
{"model":"GFS 0.250°","time":"2026-09-02T20:00Z","speed":8.6},
{"model":"GFS 0.250°","time":"2026-09-02T23:00Z","speed":8.81},
{"model":"GFS 0.250°","time":"2026-09-03T02:00Z","speed":8.37},
{"model":"GFS 0.250°","time":"2026-09-03T05:00Z","speed":7.11},
{"model":"GFS 0.250°","time":"2026-09-03T08:00Z","speed":7.95},
{"model":"GFS 0.250°","time":"2026-09-03T11:00Z","speed":11.72},
{"model":"GFS 0.250°","time":"2026-09-03T14:00Z","speed":22.71},
{"model":"GFS 0.250°","time":"2026-09-03T17:00Z","speed":20.9},
{"model":"GFS 0.250°","time":"2026-09-03T20:00Z","speed":6.87},
{"model":"GFS 0.250°","time":"2026-09-03T23:00Z","speed":5.9},
{"model":"GFS 0.250°","time":"2026-09-04T02:00Z","speed":5.37},
{"model":"GFS 0.250°","time":"2026-09-04T05:00Z","speed":4.82},
{"model":"GFS 0.250°","time":"2026-09-04T08:00Z","speed":3.8},
{"model":"GFS 0.250°","time":"2026-09-04T11:00Z","speed":5.61},
{"model":"GFS 0.250°","time":"2026-09-04T14:00Z","speed":9.83},
{"model":"GFS 0.250°","time":"2026-09-04T17:00Z","speed":15.87},
{"model":"GFS 0.250°","time":"2026-09-04T20:00Z","speed":7.89},
{"model":"GFS 0.250°","time":"2026-09-04T23:00Z","speed":6.87},
{"model":"NBM","time":"2026-08-27T12:00Z","speed":9.49},
{"model":"NBM","time":"2026-08-27T13:00Z","speed":10.39},
{"model":"NBM","time":"2026-08-27T14:00Z","speed":11.39},
{"model":"NBM","time":"2026-08-27T15:00Z","speed":12.64},
{"model":"NBM","time":"2026-08-27T16:00Z","speed":13.85},
{"model":"NBM","time":"2026-08-27T17:00Z","speed":13.74},
{"model":"NBM","time":"2026-08-27T18:00Z","speed":13.38},
{"model":"NBM","time":"2026-08-27T19:00Z","speed":11.88},
{"model":"NBM","time":"2026-08-27T20:00Z","speed":10.05},
{"model":"NBM","time":"2026-08-27T21:00Z","speed":9.02},
{"model":"NBM","time":"2026-08-27T22:00Z","speed":7.6},
{"model":"NBM","time":"2026-08-27T23:00Z","speed":6.3},
{"model":"NBM","time":"2026-08-28T00:00Z","speed":5.69},
{"model":"NBM","time":"2026-08-28T01:00Z","speed":4.82},
{"model":"NBM","time":"2026-08-28T02:00Z","speed":4.23},
{"model":"NBM","time":"2026-08-28T03:00Z","speed":3.88},
{"model":"NBM","time":"2026-08-28T04:00Z","speed":3.64},
{"model":"NBM","time":"2026-08-28T05:00Z","speed":3.48},
{"model":"NBM","time":"2026-08-28T06:00Z","speed":3.72},
{"model":"NBM","time":"2026-08-28T07:00Z","speed":3.75},
{"model":"NBM","time":"2026-08-28T08:00Z","speed":4.23},
{"model":"NBM","time":"2026-08-28T09:00Z","speed":5.37},
{"model":"NBM","time":"2026-08-28T10:00Z","speed":5.9},
{"model":"NBM","time":"2026-08-28T11:00Z","speed":6.46},
{"model":"NBM","time":"2026-08-28T12:00Z","speed":6.43},
{"model":"NBM","time":"2026-08-28T13:00Z","speed":6.71},
{"model":"NBM","time":"2026-08-28T14:00Z","speed":6.87},
{"model":"NBM","time":"2026-08-28T15:00Z","speed":6.63},
{"model":"NBM","time":"2026-08-28T16:00Z","speed":6.49},
{"model":"NBM","time":"2026-08-28T17:00Z","speed":6.71},
{"model":"NBM","time":"2026-08-28T18:00Z","speed":5.95},
{"model":"NBM","time":"2026-08-28T19:00Z","speed":4.32},
{"model":"NBM","time":"2026-08-28T20:00Z","speed":3.55},
{"model":"NBM","time":"2026-08-28T21:00Z","speed":2.83},
{"model":"NBM","time":"2026-08-28T22:00Z","speed":2.5},
{"model":"NBM","time":"2026-08-28T23:00Z","speed":2.42},
{"model":"NBM","time":"2026-08-29T02:00Z","speed":2.46},
{"model":"NBM","time":"2026-08-29T05:00Z","speed":2.94},
{"model":"NBM","time":"2026-08-29T08:00Z","speed":4.25},
{"model":"NBM","time":"2026-08-29T11:00Z","speed":9.97},
{"model":"NBM","time":"2026-08-29T14:00Z","speed":16.13},
{"model":"NBM","time":"2026-08-29T17:00Z","speed":16.57},
{"model":"NBM","time":"2026-08-29T20:00Z","speed":7.76},
{"model":"NBM","time":"2026-08-29T23:00Z","speed":4.8},
{"model":"NBM","time":"2026-08-30T02:00Z","speed":3.72},
{"model":"NBM","time":"2026-08-30T05:00Z","speed":2.78},
{"model":"NBM","time":"2026-08-30T08:00Z","speed":2.83},
{"model":"NBM","time":"2026-08-30T11:00Z","speed":3.07},
{"model":"NBM","time":"2026-08-30T14:00Z","speed":5.28},
{"model":"NBM","time":"2026-08-30T17:00Z","speed":6.5},
{"model":"NBM","time":"2026-08-30T20:00Z","speed":3.42},
{"model":"NBM","time":"2026-08-30T23:00Z","speed":3.55},
{"model":"NBM","time":"2026-08-31T02:00Z","speed":5.09},
{"model":"NBM","time":"2026-08-31T05:00Z","speed":5.0},
{"model":"NBM","time":"2026-08-31T08:00Z","speed":6.19},
{"model":"NBM","time":"2026-08-31T11:00Z","speed":4.33},
{"model":"NBM","time":"2026-08-31T14:00Z","speed":7.0},
{"model":"NBM","time":"2026-08-31T17:00Z","speed":12.69},
{"model":"NBM","time":"2026-08-31T20:00Z","speed":7.55},
{"model":"NBM","time":"2026-08-31T23:00Z","speed":9.1},
{"model":"NBM","time":"2026-09-01T02:00Z","speed":6.63},
{"model":"NBM","time":"2026-09-01T05:00Z","speed":5.17},
{"model":"NBM","time":"2026-09-01T08:00Z","speed":7.27},
{"model":"NBM","time":"2026-09-01T11:00Z","speed":8.52},
{"model":"NBM","time":"2026-09-01T14:00Z","speed":12.41},
{"model":"NBM","time":"2026-09-01T17:00Z","speed":15.06},
{"model":"NBM","time":"2026-09-01T20:00Z","speed":10.86},
{"model":"NBM","time":"2026-09-01T23:00Z","speed":8.48},
{"model":"NBM","time":"2026-09-02T02:00Z","speed":6.19},
{"model":"NBM","time":"2026-09-02T05:00Z","speed":4.85},
{"model":"NBM","time":"2026-09-02T08:00Z","speed":7.84},
{"model":"NBM","time":"2026-09-02T11:00Z","speed":6.92},
{"model":"NBM","time":"2026-09-02T14:00Z","speed":10.59},
{"model":"NBM","time":"2026-09-02T17:00Z","speed":12.2},
{"model":"NBM","time":"2026-09-02T20:00Z","speed":7.11},
{"model":"NBM","time":"2026-09-02T23:00Z","speed":7.14},
{"model":"NBM","time":"2026-09-03T02:00Z","speed":5.22},
{"model":"NBM","time":"2026-09-03T05:00Z","speed":3.88},
{"model":"NBM","time":"2026-09-03T08:00Z","speed":6.19},
{"model":"NBM","time":"2026-09-03T11:00Z","speed":5.61},
{"model":"NBM","time":"2026-09-03T14:00Z","speed":8.76},
{"model":"NBM","time":"2026-09-03T17:00Z","speed":11.23},
{"model":"NBM","time":"2026-09-03T20:00Z","speed":7.11},
{"model":"NBM","time":"2026-09-03T23:00Z","speed":5.98},
{"model":"NBM","time":"2026-09-04T02:00Z","speed":4.15},
{"model":"NBM","time":"2026-09-04T05:00Z","speed":3.43},
{"model":"NBM","time":"2026-09-04T08:00Z","speed":6.51},
{"model":"NBM","time":"2026-09-04T11:00Z","speed":6.77},
{"model":"NBM","time":"2026-09-04T17:00Z","speed":10.8},
{"model":"NBM","time":"2026-09-04T23:00Z","speed":4.49}
]},
"layer":[
{"mark":{"type":"point","filled":true,"opacity":1,"strokeWidth":0},
"encoding":{
"x":{"field":"time","type":"temporal","title":"Date",
"scale":{"type":"utc","domain":[{"year":2026,"month":8,"date":27,"utc":true},{"year":2026,"month":9,"date":5,"utc":true}]},
"axis":{"labelExpr":"utcFormat(datum.value, '%m/%d')","titlePadding":22,"labelPadding":28,"labelFlush":false,
"values":[{"year":2026,"month":8,"date":27,"utc":true},{"year":2026,"month":8,"date":28,"utc":true},{"year":2026,"month":8,"date":29,"utc":true},{"year":2026,"month":8,"date":30,"utc":true},{"year":2026,"month":8,"date":31,"utc":true},{"year":2026,"month":9,"date":1,"utc":true},{"year":2026,"month":9,"date":2,"utc":true},{"year":2026,"month":9,"date":3,"utc":true},{"year":2026,"month":9,"date":4,"utc":true},{"year":2026,"month":9,"date":5,"utc":true}]}},
"y":{"field":"speed","type":"quantitative","title":"20-ft wind speed (mph)",
"scale":{"domain":[0,40],"nice":false,"zero":true},
"axis":{"values":[0,5,10,15,20,25,30,35,40],"titlePadding":28}},
"color":{"field":"model","type":"nominal",
"scale":{"domain":["ECMWF","HRRR","NAM 3 km","NAM 12 km","GFS 0.125°","GFS 0.250°","NBM"],"range":["#0000cc","#006400","#ff0000","#000000","#c0c0c0","#87ceeb","#ffa500"]},
"legend":{"orient":"none","legendX":1266,"legendY":13,"title":null,"labelFontSize":23,"labelColor":"black","labelAlign":"right","labelOffset":-60,"labelLimit":400,"symbolSize":80,"rowPadding":4.3,"symbolStrokeWidth":0}},
"shape":{"field":"model","type":"nominal",
"scale":{"domain":["ECMWF","HRRR","NAM 3 km","NAM 12 km","GFS 0.125°","GFS 0.250°","NBM"],"range":["square","circle","triangle-up","triangle-down","diamond","M0,-1L0.951,-0.309L0.588,0.809L-0.588,0.809L-0.951,-0.309Z","M-1,-0.1L1,-0.1L1,0.1L-1,0.1Z M-0.1,-1L0.1,-1L0.1,1L-0.1,1Z M-0.778,-0.636L-0.636,-0.778L0.778,0.636L0.636,0.778Z M-0.636,0.778L-0.778,0.636L0.636,-0.778L0.778,-0.636Z"]}},
"size":{"field":"model","type":"nominal","legend":null,
"scale":{"domain":["ECMWF","HRRR","NAM 3 km","NAM 12 km","GFS 0.125°","GFS 0.250°","NBM"],"range":[85,140,160,160,120,150,170]}}
}},
{"mark":{"type":"point","opacity":0},
"encoding":{
"x":{"field":"time","type":"temporal","axis":{"orient":"top","labels":false,"title":null,"values":[{"year":2026,"month":8,"date":27,"utc":true},{"year":2026,"month":8,"date":28,"utc":true},{"year":2026,"month":8,"date":29,"utc":true},{"year":2026,"month":8,"date":30,"utc":true},{"year":2026,"month":8,"date":31,"utc":true},{"year":2026,"month":9,"date":1,"utc":true},{"year":2026,"month":9,"date":2,"utc":true},{"year":2026,"month":9,"date":3,"utc":true},{"year":2026,"month":9,"date":4,"utc":true},{"year":2026,"month":9,"date":5,"utc":true}]}},
"y":{"field":"speed","type":"quantitative","axis":{"orient":"right","labels":false,"title":null,"values":[0,5,10,15,20,25,30,35,40]}}
}}
],
"resolve":{"axis":{"x":"independent","y":"independent"}}
}
